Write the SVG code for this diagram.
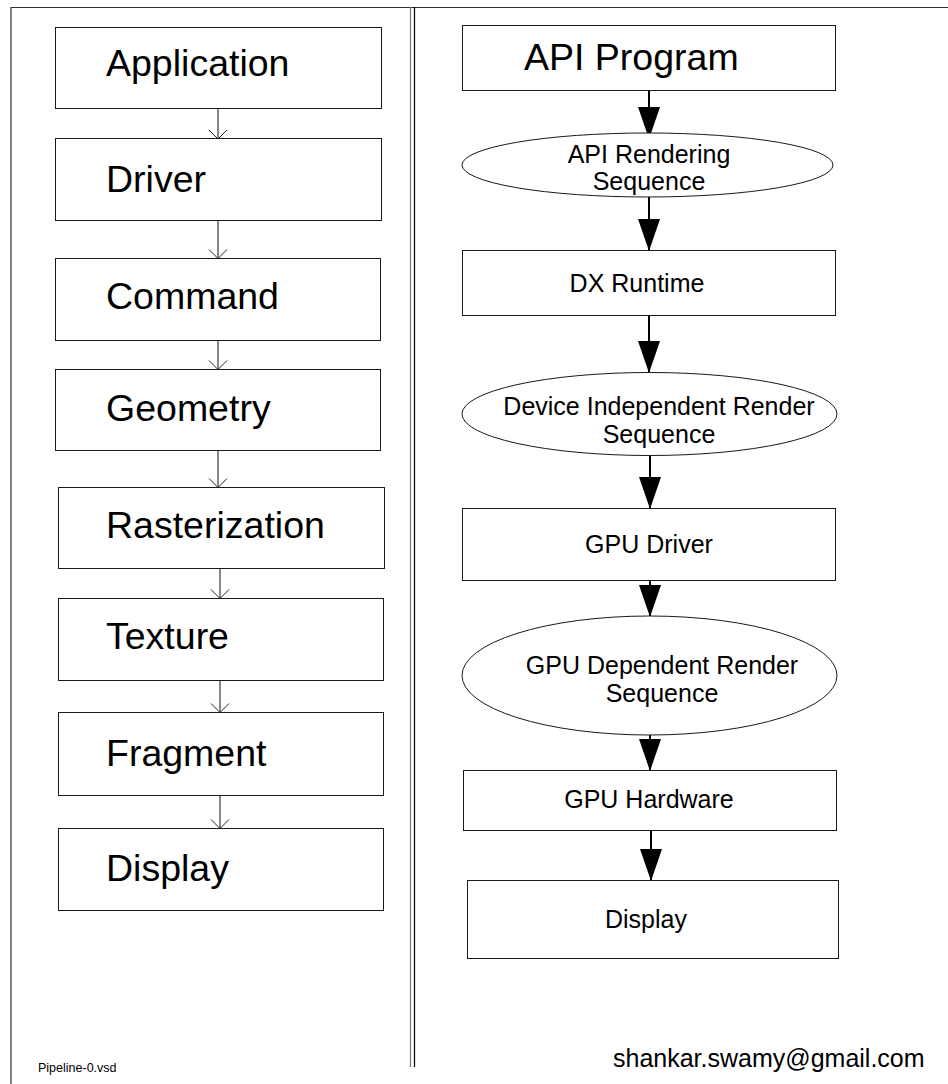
<svg xmlns="http://www.w3.org/2000/svg" width="948" height="1084" viewBox="0 0 948 1084">
  <style>
    .box { fill: #ffffff; stroke: #1a1a1a; stroke-width: 1; }
    .big { font-family: "Liberation Sans", Arial, sans-serif; font-size: 37.5px; fill: #000; }
    .lbl { font-family: "Liberation Sans", Arial, sans-serif; font-size: 25px; fill: #000; text-anchor: middle; }
    .thin { stroke: #111; stroke-width: 1; fill: none; }
    .thick { stroke: #000; stroke-width: 2; fill: none; }
    .frame { stroke: #333; stroke-width: 1.2; fill: none; }
  </style>
  <defs>
    <marker id="open" markerWidth="20" markerHeight="20" refX="10" refY="10" orient="auto" markerUnits="userSpaceOnUse">
      <path d="M1,1 L10,10 L1,19" fill="none" stroke="#222" stroke-width="1"/>
    </marker>
    <marker id="solid" markerWidth="34" markerHeight="24" refX="32" refY="11" orient="auto" markerUnits="userSpaceOnUse">
      <path d="M0,0 L32,11 L0,22 Z" fill="#000"/>
    </marker>
  </defs>

  <rect width="948" height="1084" fill="#ffffff"/>

  <!-- page frame and column divider -->
  <g id="frame">
    <path class="frame" d="M11,1084 L11,7.5 L948,7.5"/>
    <line x1="410.5" y1="7" x2="410.5" y2="1067" stroke="#777" stroke-width="1.2"/>
    <line x1="414.5" y1="7" x2="414.5" y2="1067" stroke="#000" stroke-width="1.2"/>
  </g>

  <!-- connectors -->
  <g id="connectors">
    <line class="thin" x1="218" y1="108.5" x2="218" y2="139" marker-end="url(#open)"/>
    <line class="thin" x1="218" y1="220.5" x2="218" y2="258.5" marker-end="url(#open)"/>
    <line class="thin" x1="218" y1="340.5" x2="218" y2="369.5" marker-end="url(#open)"/>
    <line class="thin" x1="218" y1="450.5" x2="218" y2="487.5" marker-end="url(#open)"/>
    <line class="thin" x1="220" y1="568.5" x2="220" y2="598.5" marker-end="url(#open)"/>
    <line class="thin" x1="220" y1="680.5" x2="220" y2="712.5" marker-end="url(#open)"/>
    <line class="thin" x1="220" y1="795.5" x2="220" y2="828.5" marker-end="url(#open)"/>

    <line class="thick" x1="649" y1="90" x2="649" y2="139" marker-end="url(#solid)"/>
    <line class="thick" x1="649" y1="197" x2="649" y2="251" marker-end="url(#solid)"/>
    <line class="thick" x1="649" y1="316" x2="649" y2="373" marker-end="url(#solid)"/>
    <line class="thick" x1="650" y1="447" x2="650" y2="509" marker-end="url(#solid)"/>
    <line class="thick" x1="650" y1="580" x2="650" y2="617" marker-end="url(#solid)"/>
    <line class="thick" x1="650" y1="731" x2="650" y2="771" marker-end="url(#solid)"/>
    <line class="thick" x1="651" y1="830" x2="651" y2="881" marker-end="url(#solid)"/>
  </g>

  <!-- left column: pipeline stages -->
  <g id="application"><rect class="box" x="55.5" y="27.5" width="326" height="81"/><text class="big" x="106" y="76">Application</text></g>
  <g id="driver"><rect class="box" x="55.5" y="138.5" width="326" height="82"/><text class="big" x="106" y="191.5">Driver</text></g>
  <g id="command"><rect class="box" x="55.5" y="258.5" width="325" height="82"/><text class="big" x="106" y="308.5">Command</text></g>
  <g id="geometry"><rect class="box" x="55.5" y="369.5" width="325" height="81"/><text class="big" x="106" y="421">Geometry</text></g>
  <g id="rasterization"><rect class="box" x="58.5" y="487.5" width="326" height="81"/><text class="big" x="106" y="538">Rasterization</text></g>
  <g id="texture"><rect class="box" x="58.5" y="598.5" width="325" height="82"/><text class="big" x="106" y="649">Texture</text></g>
  <g id="fragment"><rect class="box" x="58.5" y="712.5" width="325" height="83"/><text class="big" x="106" y="766">Fragment</text></g>
  <g id="display-left"><rect class="box" x="58.5" y="828.5" width="325" height="82"/><text class="big" x="106" y="881">Display</text></g>

  <!-- right column: API flow -->
  <g id="api-program"><rect class="box" x="462.5" y="25.5" width="373" height="65"/><text class="big" x="524" y="70">API Program</text></g>
  <g id="api-rendering-sequence">
    <ellipse class="box" cx="647.5" cy="165" rx="185.5" ry="32"/>
    <text class="lbl" x="649" y="163">API Rendering</text>
    <text class="lbl" x="649" y="190">Sequence</text>
  </g>
  <g id="dx-runtime"><rect class="box" x="462.5" y="250.5" width="373" height="65"/><text class="lbl" x="637" y="292">DX Runtime</text></g>
  <g id="device-independent-sequence">
    <ellipse class="box" cx="649.5" cy="414" rx="187.5" ry="41.5"/>
    <text class="lbl" x="659" y="415">Device Independent Render</text>
    <text class="lbl" x="659" y="443">Sequence</text>
  </g>
  <g id="gpu-driver"><rect class="box" x="462.5" y="508.5" width="373" height="72"/><text class="lbl" x="649" y="553">GPU Driver</text></g>
  <g id="gpu-dependent-sequence">
    <ellipse class="box" cx="649.5" cy="675.5" rx="187.5" ry="59.5"/>
    <text class="lbl" x="662" y="674">GPU Dependent Render</text>
    <text class="lbl" x="662" y="702">Sequence</text>
  </g>
  <g id="gpu-hardware"><rect class="box" x="463.5" y="770.5" width="373" height="60"/><text class="lbl" x="649" y="808">GPU Hardware</text></g>
  <g id="display-right"><rect class="box" x="467.5" y="880.5" width="371" height="78"/><text class="lbl" x="646" y="928">Display</text></g>

  <!-- footer -->
  <g id="footer">
    <text x="38" y="1072" font-family="Liberation Sans, Arial, sans-serif" font-size="12.5px" fill="#000">Pipeline-0.vsd</text>
    <text x="613" y="1067" font-family="Liberation Sans, Arial, sans-serif" font-size="25px" fill="#000">shankar.swamy@gmail.com</text>
  </g>
</svg>
